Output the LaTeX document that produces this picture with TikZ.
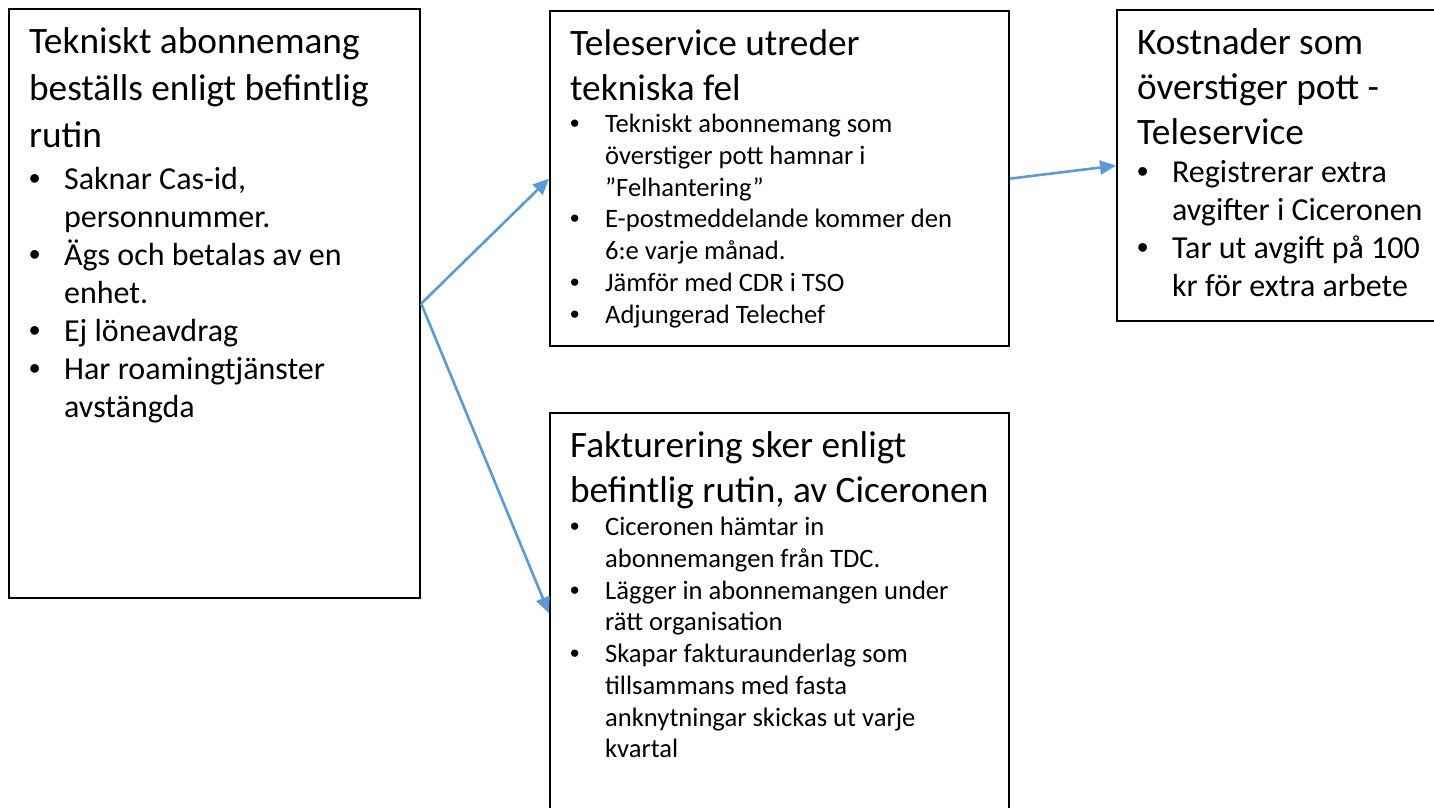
\documentclass[tikz,border=0pt]{standalone}
\usepackage{fontspec}
\setmainfont{Carlito}
\newfontfamily\punktfont{Liberation Sans}
\usetikzlibrary{arrows.meta}
\definecolor{pilblue}{HTML}{5B9BD5}
\tikzset{
        box/.style={draw=black, line width=2.2pt, anchor=north west, inner xsep=20pt, inner ysep=0pt},
        flow/.style={draw=pilblue, line width=2.6pt, -{Triangle[length=16pt, width=14pt]}}
          }
\newcommand{\rubrik}[2][45]{{\fontsize{37.3}{#1}\selectfont\rule{0pt}{44pt}#2\par}}
\newcommand{\storpunkter}{\fontsize{32}{38}\selectfont}
\newcommand{\smapunkter}{\fontsize{26.6}{31.7}\selectfont}
\newcommand{\punkt}[1]{\par\hangindent=35pt\hangafter=1\noindent\makebox[35pt][l]{\punktfont\textbullet}#1\par}
\begin{document}
\begin{tikzpicture}[x=1pt, y=-1pt]
        \useasboundingbox (0,0) rectangle (1434,807);
        \clip (0,0) rectangle (1434,807);
        \node[box] (abonnemang) at (8,8) {\parbox[c][589pt][t]{371pt}{\raggedright
          \rubrik[47]{Tekniskt abonnemang\newline beställs enligt befintlig\newline rutin}
          \storpunkter\vspace{4pt}
          \punkt{Saknar Cas-id,\newline personnummer.}
          \punkt{Ägs och betalas av en\newline enhet.}
          \punkt{Ej löneavdrag}
          \punkt{Har roamingtjänster\newline avstängda}}};
        \node[box] (utreder) at (549,10) {\parbox[c][335pt][t]{419pt}{\raggedright
          \rubrik{Teleservice utreder\newline tekniska fel}
          \smapunkter\vspace{1pt}
          \punkt{Tekniskt abonnemang som\newline överstiger pott hamnar i\newline ”Felhantering”}
          \punkt{E-postmeddelande kommer den\newline 6:e varje månad.}
          \punkt{Jämför med CDR i TSO}
          \punkt{Adjungerad Telechef}}};
        \node[box] (kostnader) at (1116,9) {\parbox[c][311pt][t]{320pt}{\raggedright
          \rubrik{Kostnader som\newline överstiger pott -\newline Teleservice}
          \storpunkter
          \punkt{Registrerar extra\newline avgifter i Ciceronen}
          \punkt{Tar ut avgift på 100\newline kr för extra arbete}}};
        \node[box] (fakturering) at (549,412) {\parbox[c][400pt][t]{419pt}{\raggedright
          \rubrik{Fakturering sker enligt\newline \mbox{befintlig rutin, av Ciceronen}}
          \smapunkter\vspace{2pt}
          \punkt{Ciceronen hämtar in\newline abonnemangen från TDC.}
          \punkt{Lägger in abonnemangen under\newline rätt organisation}
          \punkt{Skapar fakturaunderlag som\newline tillsammans med fasta\newline anknytningar skickas ut varje\newline kvartal}}};
        \draw[flow] (abonnemang.east) -- (utreder.west);
        \draw[flow] (abonnemang.east) -- (fakturering.west);
        \draw[flow] (utreder.east) -- (kostnader.west);
      \end{tikzpicture}
\end{document}
